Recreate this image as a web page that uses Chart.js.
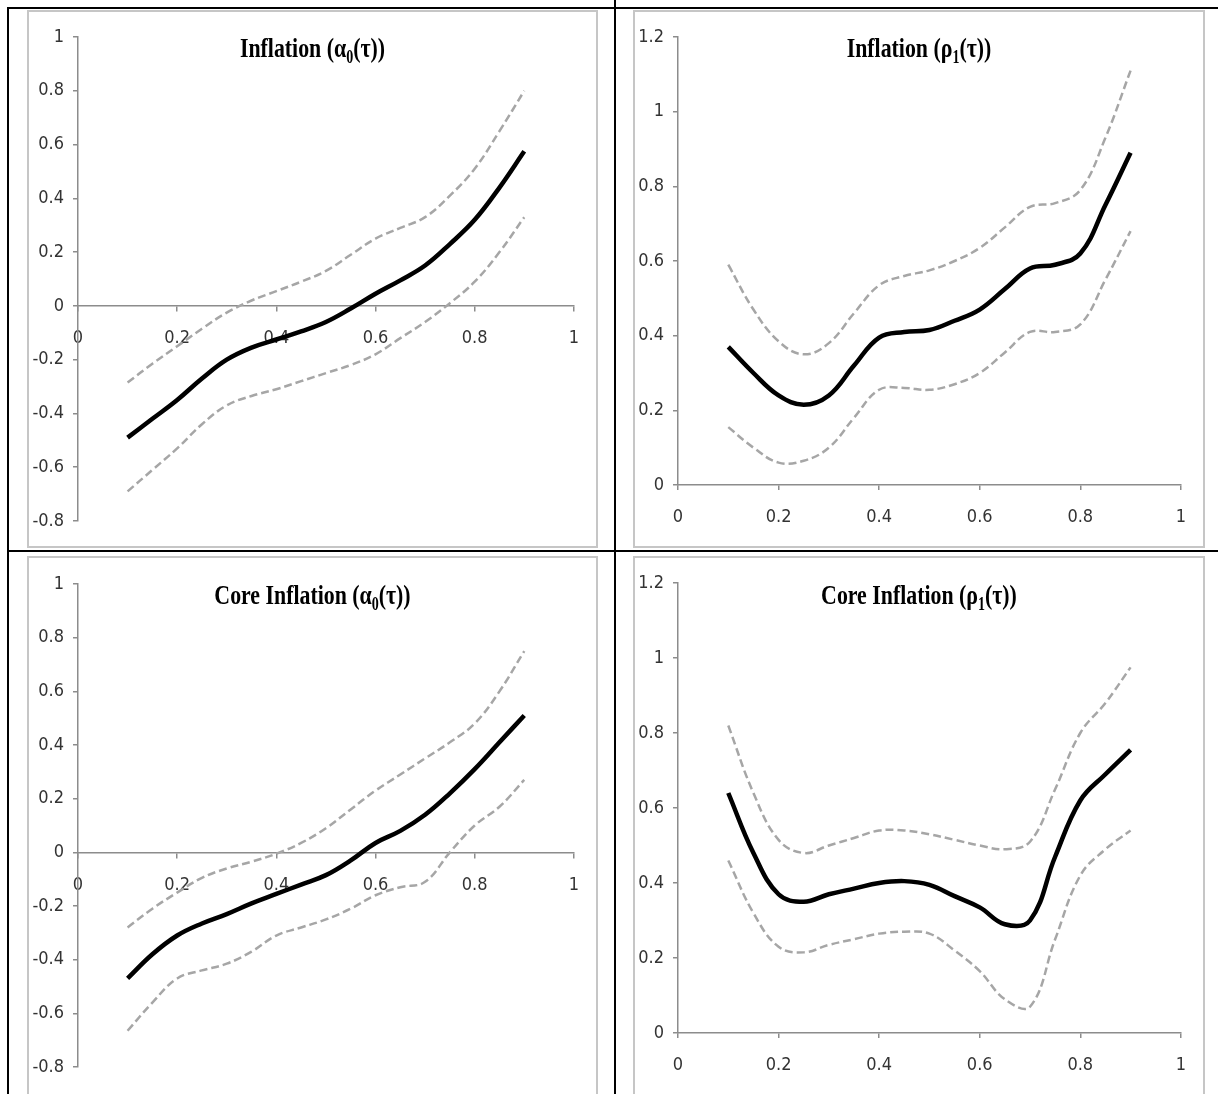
<!DOCTYPE html>
<html>
<head>
<meta charset="utf-8">
<script src="https://cdn.jsdelivr.net/npm/chart.js@4"></script>
<style>
  body { margin: 0; background: #fff; width: 1218px; height: 1094px; overflow: hidden; position: relative; }
  .panel { position: absolute; border: 2px solid #c6c6c6; background: #fff; }
  .rule { position: absolute; background: #000; }
</style>
</head>
<body>
<!-- table lines -->
<div class="rule" style="left:7px;top:7px;width:2px;height:1087px"></div>
<div class="rule" style="left:614px;top:0;width:2px;height:1094px"></div>
<div class="rule" style="left:7px;top:7px;width:1211px;height:2px"></div>
<div class="rule" style="left:7px;top:550px;width:1211px;height:2px"></div>

<div class="panel" style="left:27px;top:10px;width:567px;height:534px"><canvas id="c1"></canvas></div>
<div class="panel" style="left:633px;top:10px;width:568px;height:534px"><canvas id="c2"></canvas></div>
<div class="panel" style="left:27px;top:556px;width:567px;height:556px"><canvas id="c3"></canvas></div>
<div class="panel" style="left:633px;top:556px;width:568px;height:556px"><canvas id="c4"></canvas></div>

<script>
// quantiles
const taus = [0.1, 0.15, 0.2, 0.25, 0.3, 0.35, 0.4, 0.45, 0.5, 0.55, 0.6, 0.65, 0.7, 0.75, 0.8, 0.85, 0.9];

// Inflation alpha0(tau)
const inflA0 = [-0.49, -0.42, -0.35, -0.27, -0.2, -0.155, -0.125, -0.095, -0.06, -0.01, 0.045, 0.095, 0.15, 0.23, 0.32, 0.44, 0.575];
const inflA0Up = [-0.285, -0.215, -0.15, -0.085, -0.025, 0.02, 0.055, 0.09, 0.13, 0.19, 0.25, 0.29, 0.33, 0.41, 0.51, 0.65, 0.8];
const inflA0Lo = [-0.69, -0.61, -0.53, -0.44, -0.37, -0.335, -0.31, -0.28, -0.25, -0.22, -0.18, -0.12, -0.06, 0.01, 0.09, 0.2, 0.33];

// Inflation rho1(tau)
const inflR1 = [0.37, 0.3, 0.24, 0.215, 0.24, 0.32, 0.395, 0.41, 0.415, 0.44, 0.47, 0.525, 0.58, 0.59, 0.62, 0.75, 0.89];
const inflR1Up = [0.59, 0.47, 0.385, 0.35, 0.38, 0.46, 0.535, 0.56, 0.575, 0.6, 0.635, 0.69, 0.745, 0.755, 0.79, 0.93, 1.11];
const inflR1Lo = [0.155, 0.1, 0.06, 0.065, 0.1, 0.18, 0.255, 0.26, 0.255, 0.27, 0.3, 0.355, 0.41, 0.41, 0.43, 0.55, 0.68];

// Core inflation alpha0(tau)
const coreA0 = [-0.47, -0.38, -0.31, -0.265, -0.23, -0.19, -0.155, -0.12, -0.085, -0.03, 0.035, 0.08, 0.14, 0.22, 0.31, 0.41, 0.51];
const coreA0Up = [-0.28, -0.21, -0.15, -0.095, -0.06, -0.035, -0.005, 0.035, 0.09, 0.16, 0.23, 0.29, 0.35, 0.41, 0.48, 0.6, 0.75];
const coreA0Lo = [-0.665, -0.56, -0.47, -0.44, -0.415, -0.37, -0.31, -0.28, -0.25, -0.21, -0.16, -0.13, -0.11, 0.0, 0.1, 0.17, 0.27];

// Core inflation rho1(tau)
const coreR1 = [0.64, 0.48, 0.37, 0.35, 0.37, 0.385, 0.4, 0.405, 0.395, 0.365, 0.335, 0.29, 0.3, 0.47, 0.62, 0.69, 0.755];
const coreR1Up = [0.82, 0.64, 0.515, 0.48, 0.5, 0.52, 0.54, 0.54, 0.53, 0.515, 0.5, 0.49, 0.51, 0.65, 0.8, 0.88, 0.975];
const coreR1Lo = [0.46, 0.32, 0.23, 0.215, 0.235, 0.25, 0.265, 0.27, 0.265, 0.22, 0.165, 0.09, 0.07, 0.25, 0.42, 0.49, 0.54];

const tickFont = { family: "'Liberation Sans Narrow', 'DejaVu Sans Condensed', 'Liberation Sans', sans-serif", size: 18 };
const axisGray = '#8c8c8c';
const fmt = v => String(Math.round(v * 10) / 10);

// draws the title inside the plot, with a subscript
const panelTitle = {
  id: 'panelTitle',
  afterDraw(chart, args, opts) {
    const ctx = chart.ctx;
    const sx = 0.78;
    const big = "bold 28px 'Liberation Serif', 'Times New Roman', serif";
    const small = "bold 18px 'Liberation Serif', 'Times New Roman', serif";
    ctx.save();
    ctx.fillStyle = '#000';
    ctx.textBaseline = 'alphabetic';
    ctx.font = big;
    const w1 = ctx.measureText(opts.head).width;
    const w3 = ctx.measureText(opts.tail).width;
    ctx.font = small;
    const w2 = ctx.measureText(opts.sub).width;
    const total = (w1 + w2 + w3) * sx;
    let x = chart.width / 2 - total / 2;
    ctx.translate(x, opts.y);
    ctx.scale(sx, 1);
    ctx.font = big;
    ctx.fillText(opts.head, 0, 0);
    ctx.font = small;
    ctx.fillText(opts.sub, w1, 6);
    ctx.font = big;
    ctx.fillText(opts.tail, w1 + w2, 0);
    ctx.restore();
  }
};

function pts(ys) {
  return taus.map((t, i) => ({ x: t, y: ys[i] }));
}

function makePanel(id, mid, up, lo, title, yMin, yMax, centerX, yWidth, pad, xHeight) {
  const xScale = {
    type: 'linear', min: 0, max: 1,
    border: { color: axisGray, width: 1.5 },
    grid: { drawOnChartArea: false, drawTicks: true, tickLength: 5, color: axisGray, lineWidth: 1.5 },
    ticks: { stepSize: 0.2, padding: 17, color: '#333', font: tickFont, maxRotation: 0, callback: fmt },
    afterFit: s => { s.height = xHeight; }
  };
  if (centerX) xScale.position = { y: 0 };
  new Chart(document.getElementById(id), {
    type: 'scatter',
    data: {
      datasets: [
        { data: pts(mid), borderColor: '#000', borderWidth: 4.5 },
        { data: pts(up), borderColor: '#a6a6a6', borderWidth: 2.5, borderDash: [8, 4] },
        { data: pts(lo), borderColor: '#a6a6a6', borderWidth: 2.5, borderDash: [8, 4] }
      ]
    },
    options: {
      responsive: true,
      maintainAspectRatio: false,
      animation: false,
      showLine: true,
      elements: { point: { radius: 0 }, line: { tension: 0.4, capBezierPoints: true } },
      layout: { padding: pad },
      plugins: {
        legend: { display: false },
        tooltip: { enabled: false },
        panelTitle: title
      },
      scales: {
        x: xScale,
        y: {
          min: yMin, max: yMax,
          border: { color: axisGray, width: 1.5 },
          grid: { drawOnChartArea: false, drawTicks: true, tickLength: 5, color: axisGray, lineWidth: 1.5 },
          ticks: { stepSize: 0.2, padding: 9, color: '#333', font: tickFont, callback: fmt },
          afterFit: s => { s.width = yWidth; }
        }
      }
    },
    plugins: [panelTitle]
  });
}

makePanel('c1', inflA0, inflA0Up, inflA0Lo,
  { head: 'Inflation (\u03b1', sub: '0', tail: '(\u03c4))', y: 45 },
  -0.8, 1, true, 49, { top: 25, bottom: 25, right: 14, left: 0 }, 0);
makePanel('c2', inflR1, inflR1Up, inflR1Lo,
  { head: 'Inflation (\u03c1', sub: '1', tail: '(\u03c4))', y: 45 },
  0, 1.2, false, 43, { top: 25, bottom: 20, right: 19, left: 0 }, 41);
makePanel('c3', coreA0, coreA0Up, coreA0Lo,
  { head: 'Core Inflation (\u03b1', sub: '0', tail: '(\u03c4))', y: 46 },
  -0.8, 1, true, 49, { top: 26, bottom: 47, right: 14, left: 0 }, 0);
makePanel('c4', coreR1, coreR1Up, coreR1Lo,
  { head: 'Core Inflation (\u03c1', sub: '1', tail: '(\u03c4))', y: 46 },
  0, 1.2, false, 43, { top: 25, bottom: 40, right: 19, left: 0 }, 41);
</script>
</body>
</html>
